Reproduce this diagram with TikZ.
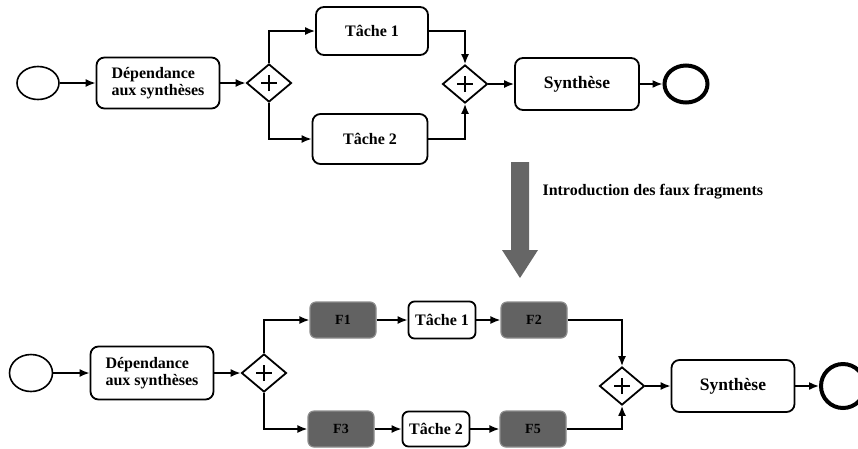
\documentclass[tikz,border=0pt]{standalone}
\usepackage{fontspec}
\setmainfont{Liberation Serif}
\usetikzlibrary{shapes.geometric,arrows.meta}
\definecolor{fraggray}{RGB}{98,98,98}
\definecolor{fragedge}{RGB}{140,140,140}
\definecolor{arrowgray}{RGB}{102,102,102}
\tikzset{task/.style={draw, rounded corners=8pt, line width=1.8pt, inner sep=0pt, font=\bfseries\fontsize{16}{17}\selectfont}}
\tikzset{fake/.style={draw=fragedge, fill=fraggray, rounded corners=6pt, line width=1.2pt, inner sep=0pt, minimum width=66pt, minimum height=36pt, font=\bfseries\fontsize{14}{16}\selectfont}}
\tikzset{startev/.style={draw, ellipse, line width=1.6pt, inner sep=0pt}}
\tikzset{endev/.style={draw, ellipse, line width=4pt, inner sep=0pt}}
\tikzset{gate/.style={draw, diamond, line width=1.8pt, inner sep=0pt, minimum width=45pt, minimum height=38pt,
  path picture={\draw[line width=1.3pt] ([xshift=-8pt]path picture bounding box.center) -- ([xshift=8pt]path picture bounding box.center)
    ([yshift=-8pt]path picture bounding box.center) -- ([yshift=8pt]path picture bounding box.center);}}}
\tikzset{flow/.style={-{Latex[length=10pt,width=8pt]}, line width=1.6pt}}

\begin{document}
\begin{tikzpicture}[x=1pt, y=-1pt]
  \clip (0,0) rectangle (858,448);
  \useasboundingbox (0,0) rectangle (858,448);

  \node (s1) [startev, minimum width=42pt, minimum height=33pt] at (38, 83) {};
  \node (dep1) [task, align=left, minimum width=123pt, minimum height=51pt] at (158, 83) {Dépendance\\aux synthèses};
  \node (g1) [gate] at (269, 83) {};
  \node (t1) [task, minimum width=112pt, minimum height=48pt] at (372, 31) {Tâche 1};
  \node (t2) [task, minimum width=115pt, minimum height=50pt] at (370, 139) {Tâche 2};
  \node (g2) [gate] at (465, 84) {};
  \node (syn1) [task, minimum width=124pt, minimum height=52pt, font=\bfseries\fontsize{17.5}{19}\selectfont] at (577, 84) {Synthèse};
  \node (e1) [endev, minimum width=43pt, minimum height=37pt] at (686, 84) {};

  \draw[flow] (s1) -- (dep1);
  \draw[flow] (dep1) -- (g1);
  \draw[flow] (g1.north) |- (t1.west);
  \draw[flow] (g1.south) |- (t2.west);
  \draw[flow] (t1.east) -| (g2.north);
  \draw[flow] (t2.east) -| (g2.south);
  \draw[flow] (g2) -- (syn1);
  \draw[flow] (syn1) -- (e1);

  \fill[arrowgray] (511,162) -- (529,162) -- (529,250) -- (538,250) -- (520,278) -- (502,250) -- (511,250) -- cycle;
  \node (intro) [anchor=west, font=\bfseries\fontsize{16}{18}\selectfont] at (539, 192) {Introduction des faux fragments};

  \node (s2) [startev, minimum width=43pt, minimum height=37pt] at (31, 373) {};
  \node (dep2) [task, align=left, minimum width=123pt, minimum height=53pt] at (152, 373) {Dépendance\\aux synthèses};
  \node (g3) [gate] at (264, 373) {};
  \node (f1) [fake] at (343, 320) {F1};
  \node (tt1) [task, rounded corners=6pt, minimum width=67pt, minimum height=37pt] at (442, 320) {Tâche 1};
  \node (f2) [fake] at (534, 320) {F2};
  \node (f3) [fake] at (341, 429) {F3};
  \node (tt2) [task, rounded corners=6pt, minimum width=67pt, minimum height=35pt] at (436, 429) {Tâche 2};
  \node (f5) [fake] at (533, 429) {F5};
  \node (g4) [gate] at (622, 386) {};
  \node (syn2) [task, minimum width=123pt, minimum height=52pt, font=\bfseries\fontsize{17.5}{19}\selectfont] at (733, 386) {Synthèse};
  \node (e2) [endev, minimum width=44pt, minimum height=44pt] at (843, 386) {};

  \draw[flow] (s2) -- (dep2);
  \draw[flow] (dep2) -- (g3);
  \draw[flow] (g3.north) |- (f1.west);
  \draw[flow] (g3.south) |- (f3.west);
  \draw[flow] (f1) -- (tt1);
  \draw[flow] (tt1) -- (f2);
  \draw[flow] (f3) -- (tt2);
  \draw[flow] (tt2) -- (f5);
  \draw[flow] (f2.east) -| (g4.north);
  \draw[flow] (f5.east) -| (g4.south);
  \draw[flow] (g4) -- (syn2);
  \draw[flow] (syn2) -- (e2);
\end{tikzpicture}
\end{document}
